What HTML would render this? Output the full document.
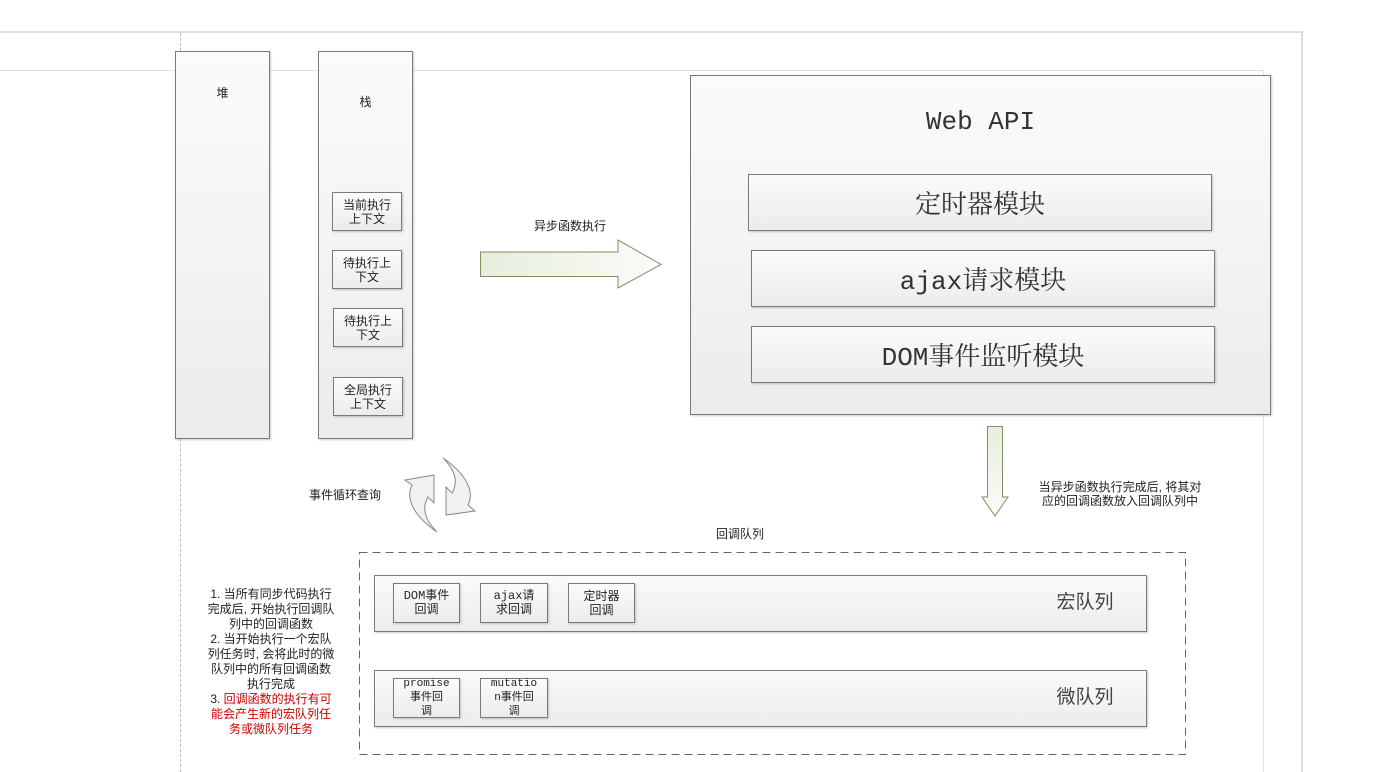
<!DOCTYPE html>
<html><head><meta charset="utf-8"><style>
body{margin:0;width:1373px;height:772px;background:#fff;position:relative;overflow:hidden;font-family:"Liberation Sans","Noto Sans CJK SC",sans-serif;color:#222}
.a{position:absolute;box-sizing:border-box}
.box{border:1px solid #7a7a7a;background:linear-gradient(#fbfbfb,#ececec);box-shadow:1px 1px 2px rgba(0,0,0,.2)}
.sm{font-size:12px;line-height:14px;text-align:center;display:flex;align-items:center;justify-content:center}
.big{font-family:"Liberation Mono","Noto Serif CJK SC",serif;font-size:26px;display:flex;align-items:center;justify-content:center;color:#333}
.t{position:absolute;font-size:12px;line-height:14px;text-align:center}
</style></head><body>
<div class="a" style="left:0;top:31px;width:1303px;height:741px;border-top:2px solid #ddd;border-right:2px solid #ddd"></div>
<div class="a" style="left:0;top:70px;width:1264px;height:702px;border-top:1px solid #e2e2e2;border-right:1px solid #e2e2e2"></div>
<div class="a" style="left:180px;top:33px;height:739px;border-left:1px dashed #bbb"></div>

<div class="a box" style="left:175px;top:51px;width:95px;height:388px"></div>
<div class="t" style="left:175px;top:86px;width:95px">堆</div>
<div class="a box" style="left:318px;top:51px;width:95px;height:388px"></div>
<div class="t" style="left:318px;top:95px;width:95px">栈</div>
<div class="a box sm" style="left:332px;top:192px;width:70px;height:39px">当前执行<br>上下文</div>
<div class="a box sm" style="left:332px;top:250px;width:70px;height:39px">待执行上<br>下文</div>
<div class="a box sm" style="left:333px;top:308px;width:70px;height:39px">待执行上<br>下文</div>
<div class="a box sm" style="left:333px;top:377px;width:70px;height:39px">全局执行<br>上下文</div>

<div class="t" style="left:520px;top:219px;width:100px">异步函数执行</div>
<svg class="a" style="left:478px;top:238px" width="188" height="54"><defs><linearGradient id="g" x1="0" x2="1"><stop offset="0" stop-color="#e6eedd"/><stop offset="1" stop-color="#fbfcf9"/></linearGradient><linearGradient id="g2" y1="0" y2="1" x1="0" x2="0"><stop offset="0" stop-color="#e6eedd"/><stop offset="1" stop-color="#fbfcf9"/></linearGradient></defs>
<polygon points="2.5,14 140,14 140,2 183,26.5 140,50 140,38.5 2.5,38.5" fill="url(#g)" stroke="#7f8f5f"/></svg>

<div class="a box" style="left:690px;top:75px;width:581px;height:340px"></div>
<div class="a big" style="left:690px;top:100px;width:581px;height:44px;font-size:26px">Web API</div>
<div class="a box big" style="left:748px;top:174px;width:464px;height:57px">定时器模块</div>
<div class="a box big" style="left:751px;top:250px;width:464px;height:57px">ajax请求模块</div>
<div class="a box big" style="left:751px;top:326px;width:464px;height:57px">DOM事件监听模块</div>

<svg class="a" style="left:980px;top:424px" width="32" height="96"><polygon points="7.5,2.5 22.5,2.5 22.5,73 28,73 15,92 2,73 7.5,73" fill="url(#g2)" stroke="#7f8f5f"/></svg>
<div class="t" style="left:1025px;top:480px;width:190px">当异步函数执行完成后, 将其对<br>应的回调函数放入回调队列中</div>

<div class="t" style="left:300px;top:488px;width:90px">事件循环查询</div>
<svg class="a" style="left:400px;top:455px" width="80" height="80">
<path d="M37,77 C18,64 4,46 12,30 L5,25 L34,20 L34,48 L28,42 C21,54 26,66 37,77 Z" fill="#f1f1f1" stroke="#888"/>
<path d="M43,3 C62,16 76,34 68,50 L75,56 L46,60 L46,32 L52,38 C59,26 54,14 43,3 Z" fill="#f1f1f1" stroke="#888"/>
</svg>

<div class="t" style="left:700px;top:527px;width:80px">回调队列</div>
<svg class="a" style="left:358px;top:551px" width="830" height="206"><rect x="1.5" y="1.5" width="826" height="202" fill="none" stroke="#666" stroke-dasharray="8,5"/></svg>
<div class="a box" style="left:374px;top:575px;width:773px;height:57px"></div>
<div class="t" style="left:1040px;top:592px;width:90px;font-size:19px;line-height:22px;color:#444">宏队列</div>
<div class="a box sm" style="left:393px;top:583px;width:67px;height:40px;font-family:'Liberation Mono','Noto Sans CJK SC',monospace">DOM事件<br>回调</div>
<div class="a box sm" style="left:480px;top:583px;width:68px;height:40px;font-family:'Liberation Mono','Noto Sans CJK SC',monospace">ajax请<br>求回调</div>
<div class="a box sm" style="left:568px;top:583px;width:67px;height:40px">定时器<br>回调</div>
<div class="a box" style="left:374px;top:670px;width:773px;height:57px"></div>
<div class="t" style="left:1040px;top:687px;width:90px;font-size:19px;line-height:22px;color:#444">微队列</div>
<div class="a box sm" style="left:393px;top:678px;width:67px;height:40px;line-height:14px;font-family:'Liberation Mono','Noto Sans CJK SC',monospace;font-size:11px">promise<br>事件回<br>调</div>
<div class="a box sm" style="left:480px;top:678px;width:68px;height:40px;line-height:14px;font-family:'Liberation Mono','Noto Sans CJK SC',monospace;font-size:11px">mutatio<br>n事件回<br>调</div>

<div class="t" style="left:198px;top:587px;width:146px;line-height:15px">1. 当所有同步代码执行<br>完成后, 开始执行回调队<br>列中的回调函数<br>2. 当开始执行一个宏队<br>列任务时, 会将此时的微<br>队列中的所有回调函数<br>执行完成<br>3. <span style="color:#c00">回调函数的执行有可<br>能会产生新的宏队列任<br>务或微队列任务</span></div>
</body></html>
